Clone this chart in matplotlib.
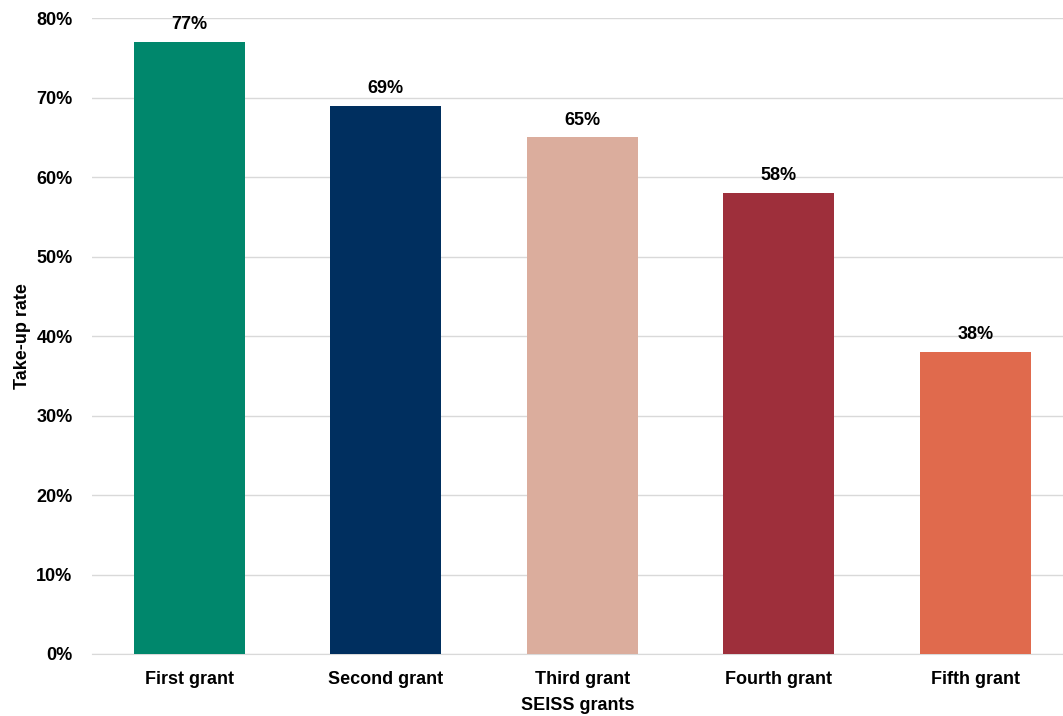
import matplotlib.pyplot as plt
from matplotlib.ticker import PercentFormatter

grants = ['First grant', 'Second grant', 'Third grant', 'Fourth grant', 'Fifth grant']
take_up = [77, 69, 65, 58, 38]
colours = ['#00876C', '#002F5F', '#DBAD9D', '#9E2F3B', '#E06A4D']

plt.rcParams['font.family'] = ['Liberation Sans', 'DejaVu Sans']
plt.rcParams['font.weight'] = 'bold'

fig = plt.figure(figsize=(10.63, 7.16), dpi=100)
ax = fig.add_axes([0.0866, 0.0866, 0.913, 0.888])

x = range(len(grants))
bars = ax.bar(x, take_up, width=0.565, color=colours, zorder=3)
for b, v in zip(bars, take_up):
    ax.text(b.get_x() + b.get_width() / 2, v + 1.1, f'{v}%', ha='center', va='bottom',
            fontsize=13, fontweight='bold')

ax.set_xlim(-0.494, 4.443)
ax.set_ylim(0, 80)
ax.set_yticks(range(0, 81, 10))
ax.yaxis.set_major_formatter(PercentFormatter(decimals=0))
ax.set_xticks(list(x))
ax.set_xticklabels(grants)
ax.tick_params(axis='both', length=0, labelsize=13)
ax.tick_params(axis='x', pad=12)
ax.tick_params(axis='y', pad=14)
ax.grid(axis='y', color='#D9D9D9', linewidth=1, zorder=0)
for s in ['top', 'right', 'left']:
    ax.spines[s].set_visible(False)
ax.spines['bottom'].set_color('#D9D9D9')

ax.set_ylabel('Take-up rate', fontsize=13, fontweight='bold', labelpad=4)
ax.set_xlabel('SEISS grants', fontsize=13, fontweight='bold', labelpad=7)

fig.savefig('out.png', dpi=100)
